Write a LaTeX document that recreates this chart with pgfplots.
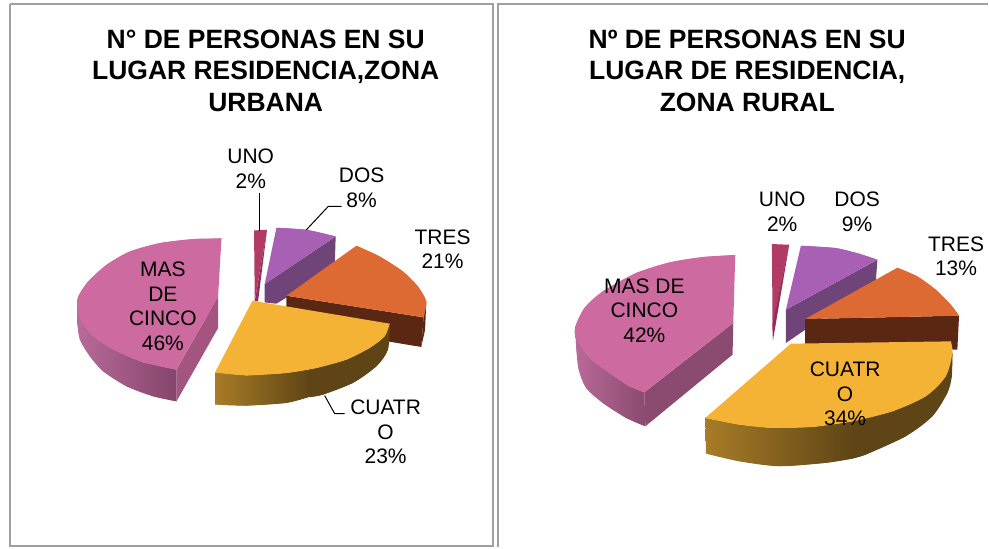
\documentclass[border=0pt]{standalone}
\usepackage{fontspec}
\setmainfont{Liberation Sans}
\usepackage{pgfplots}
\pgfplotsset{compat=1.18}
\definecolor{magT}{HTML}{CD6AA0}
\definecolor{magC}{HTML}{A35580}
\definecolor{magCb}{HTML}{8B4A6F}
\definecolor{magL}{HTML}{B86A98}
\definecolor{magD}{HTML}{84456B}
\definecolor{unoT}{HTML}{B23A67}
\definecolor{unoS}{HTML}{962C56}
\definecolor{dosT}{HTML}{A860B4}
\definecolor{dosS}{HTML}{6F4478}
\definecolor{treT}{HTML}{DD6A33}
\definecolor{treS}{HTML}{5A2812}
\definecolor{cuaT}{HTML}{F5B335}
\definecolor{cuaL}{HTML}{A87C28}
\definecolor{cuaD}{HTML}{5F4515}
\definecolor{frameC}{HTML}{A0A0A0}
\tikzset{
  lab/.style={align=center, inner sep=0pt, text=black, font=\fontsize{21}{24.6}\selectfont},
  ttl/.style={align=center, inner sep=0pt, text=black, font=\fontsize{26.5}{31.5}\selectfont\bfseries},
}
\begin{document}
\begin{tikzpicture}
\begin{axis}[
  scale only axis, width=989pt, height=548pt,
  xmin=0, xmax=989, ymin=0, ymax=548, y dir=reverse,
  axis lines=none, clip=false,
]
% page
\addplot[draw=none, fill=white] coordinates {(0,0)(989,0)(989,548)(0,548)};
% frames
\addplot[frameC, line width=2pt] coordinates {(10.5,4)(493,4)(493,547)(10.5,547)(10.5,4)};
\addplot[frameC, line width=2pt] coordinates {(498.5,548)(498.5,4)(989,4)};

%%%%% LEFT
% MAS outer
\addplot[draw=none, smooth, left color=magL, right color=magD] coordinates {(176.7,401.7)(153.3,396.7)(126.7,386.7)(103.3,371.7)(90,356.7)(80,340)(77.3,322)(77.3,306.7)};
\addplot[draw=none, left color=magL, right color=magD] coordinates {(77.3,306.7)(81.7,321.7)(93.3,336.7)(113.3,350)(143.3,362.7)(176.7,370)(176.7,401.7)(153.3,396.7)(126.7,386.7)(103.3,371.7)(90,356.7)(80,340)(77.3,322)};
\addplot[draw=none, fill=magC] coordinates {(218.3,296.7)(176.7,370)(176.7,401.7)(218.3,328.3)};
\addplot[draw=none, fill=magT] coordinates {(221.7,238.7)(193.3,239.3)(160,243.3)(130,251.7)(106.7,265)(88.3,281.7)(78.3,296.7)(77.3,306.7)(81.7,321.7)(93.3,336.7)(113.3,350)(143.3,362.7)(176.7,370)(218.3,296.7)};
\addplot[draw=none, smooth, fill=magT] coordinates {(221.7,238.7)(193.3,239.3)(160,243.3)(130,251.7)(106.7,265)(88.3,281.7)(78.3,296.7)(77.3,306.7)(81.7,321.7)(93.3,336.7)(113.3,350)(143.3,362.7)(176.7,370)};
% UNO
\addplot[draw=none, fill=unoT] coordinates {(254.3,230.7)(267.3,230)(255,301)};
\addplot[draw=none, fill=unoS] coordinates {(267.3,230)(258.3,301.7)(255,301.7)};
% DOS
\addplot[draw=none, fill=dosS] coordinates {(265,284.3)(336,236.7)(335,268.3)(276.7,304)(265,302.7)};
\addplot[draw=none, fill=dosT] coordinates {(265,284.3)(276.7,228)(306.7,230)(336,236.7)};
\addplot[draw=none, smooth, fill=dosT] coordinates {(276.7,228)(306.7,230)(336,236.7)};
% TRES
\addplot[draw=none, fill=treS] coordinates {(286.7,296)(424,317.7)(421.7,347.3)(286.7,325)};
\addplot[draw=none, fill=treS] coordinates {(426.7,301.7)(424,317.7)(421.7,347.3)(425.5,330)};
\addplot[draw=none, fill=treT] coordinates {(286.7,296)(356.7,246)(380,256.7)(403.3,271.7)(418.3,286.7)(426.7,301.7)(424,317.7)};
\addplot[draw=none, smooth, fill=treT] coordinates {(356.7,246)(380,256.7)(403.3,271.7)(418.3,286.7)(426.7,301.7)(424,317.7)};
% CUATRO
\addplot[draw=none, smooth, left color=cuaL, right color=cuaD] coordinates {(215.3,405)(246.7,406)(286.7,403.3)(310.5,397)};
\addplot[draw=none, left color=cuaL, right color=cuaD] coordinates {(215.3,372.7)(246.7,375.7)(286.7,373.3)(310.5,369.5)(310.5,397)(286.7,403.3)(246.7,406)(215.3,405)};
\addplot[draw=none, smooth, fill=cuaD] coordinates {(310,397.5)(323.3,395)(353.3,383.3)(376.7,366.7)(388.3,350)(390,324)};
\addplot[draw=none, fill=cuaD] coordinates {(310,369.5)(316.7,368.3)(346.7,360)(370,348.3)(385,336.7)(390,324)(388.3,350)(376.7,366.7)(353.3,383.3)(323.3,395)(310,397.5)};
\addplot[draw=none, fill=cuaT] coordinates {(252.7,301)(390,324)(385,336.7)(370,348.3)(346.7,360)(316.7,368.3)(286.7,373.3)(246.7,375.7)(215.3,372.7)};
\addplot[draw=none, smooth, fill=cuaT] coordinates {(390,324)(385,336.7)(370,348.3)(346.7,360)(316.7,368.3)(286.7,373.3)(246.7,375.7)(215.3,372.7)};
% leaders
\addplot[black, line width=1pt] coordinates {(260,193)(260,231)};
\addplot[black, line width=1pt] coordinates {(306.7,230)(328.5,206.7)(342,206.7)};
\addplot[black, line width=1pt] coordinates {(325,396)(335,414)(345,414)};
% labels
\node[ttl] at (axis cs:266,70.5) {N° DE PERSONAS EN SU\\LUGAR RESIDENCIA,ZONA\\URBANA};
\node[lab] at (axis cs:251,169) {UNO\\2\%};
\node[lab] at (axis cs:362,188) {DOS\\8\%};
\node[lab] at (axis cs:443,249.5) {TRES\\21\%};
\node[lab] at (axis cs:163,306.5) {MAS\\DE\\CINCO\\46\%};
\node[lab] at (axis cs:386,432.5) {CUATR\\O\\23\%};

%%%%% RIGHT
\addplot[draw=none, smooth, left color=magL, right color=magCb] coordinates {(646,426.7)(626.7,418.3)(603.3,403.3)(586.7,388.3)(579.3,370)(576.7,346.7)(576,326.7)};
\addplot[draw=none, left color=magL, right color=magCb] coordinates {(576,326.7)(576.7,338.3)(590,358.3)(610,373.3)(630,386.7)(645,392.7)(646,426.7)(626.7,418.3)(603.3,403.3)(586.7,388.3)(579.3,370)(576.7,346.7)};
\addplot[draw=none, fill=magCb] coordinates {(734,323.3)(645,392.7)(646,426.7)(733.3,355)};
\addplot[draw=none, fill=magT] coordinates {(736,255.3)(703.3,257.3)(670,262.7)(636.7,273.3)(603.3,291.7)(585,308.3)(576,326.7)(576.7,338.3)(590,358.3)(610,373.3)(630,386.7)(645,392.7)(734,323.3)};
\addplot[draw=none, smooth, fill=magT] coordinates {(736,255.3)(703.3,257.3)(670,262.7)(636.7,273.3)(603.3,291.7)(585,308.3)(576,326.7)(576.7,338.3)(590,358.3)(610,373.3)(630,386.7)(645,392.7)};
% UNO
\addplot[draw=none, fill=unoT] coordinates {(772.7,244.3)(790,245)(773.3,325)};
\addplot[draw=none, fill=unoS] coordinates {(790,245)(773.7,341)(773,325)};
% DOS
\addplot[draw=none, fill=dosS] coordinates {(786.7,310)(878.3,260)(876.7,281.7)(786.7,343.3)};
\addplot[draw=none, fill=dosT] coordinates {(786.7,310)(801.7,246)(836.7,248.3)(860,254)(878.3,260)};
\addplot[draw=none, smooth, fill=dosT] coordinates {(801.7,246)(836.7,248.3)(860,254)(878.3,260)};
% TRES
\addplot[draw=none, fill=treS] coordinates {(806,319.3)(960,316)(958.3,350)(806,345)};
\addplot[draw=none, fill=treT] coordinates {(806,319.3)(898.3,268)(918.3,276.7)(936.7,290)(951.7,305)(960,316)};
\addplot[draw=none, smooth, fill=treT] coordinates {(898.3,268)(918.3,276.7)(936.7,290)(951.7,305)(960,316)};
% CUATRO
\addplot[draw=none, smooth, left color=cuaL, right color=cuaD] coordinates {(706.7,454)(740,461.7)(780,466.7)(826.7,463.3)(853.5,459)};
\addplot[draw=none, left color=cuaL, right color=cuaD] coordinates {(706,418.3)(740,425)(773.3,428.3)(813.3,427.3)(853.5,421.7)(853.5,459)(826.7,463.3)(780,466.7)(740,461.7)(706.7,454)};
\addplot[draw=none, smooth, fill=cuaD] coordinates {(853,459)(866.7,455)(906.7,436.7)(933.3,416.7)(948.3,393.3)(952.7,376.7)(953.3,353.3)};
\addplot[draw=none, fill=cuaD] coordinates {(853,421.7)(893.3,411.7)(926.7,396.7)(946.7,376.7)(953.3,353.3)(952.7,376.7)(948.3,393.3)(933.3,416.7)(906.7,436.7)(866.7,455)(853,459)};
\addplot[draw=none, fill=cuaT] coordinates {(791.7,344)(951.7,341.7)(953.3,353.3)(946.7,376.7)(926.7,396.7)(893.3,411.7)(853.3,421.7)(813.3,427.3)(773.3,428.3)(740,425)(706,418.3)};
\addplot[draw=none, smooth, fill=cuaT] coordinates {(951.7,341.7)(953.3,353.3)(946.7,376.7)(926.7,396.7)(893.3,411.7)(853.3,421.7)(813.3,427.3)(773.3,428.3)(740,425)(706,418.3)};
% labels
\node[ttl] at (axis cs:748,70.5) {Nº DE PERSONAS EN SU\\LUGAR DE RESIDENCIA,\\ZONA RURAL};
\node[lab] at (axis cs:783,212) {UNO\\2\%};
\node[lab] at (axis cs:858,212) {DOS\\9\%};
\node[lab] at (axis cs:957,256.5) {TRES\\13\%};
\node[lab] at (axis cs:645,311) {MAS DE\\CINCO\\42\%};
\node[lab] at (axis cs:846,394.5) {CUATR\\O\\34\%};
\end{axis}
\end{tikzpicture}
\end{document}
